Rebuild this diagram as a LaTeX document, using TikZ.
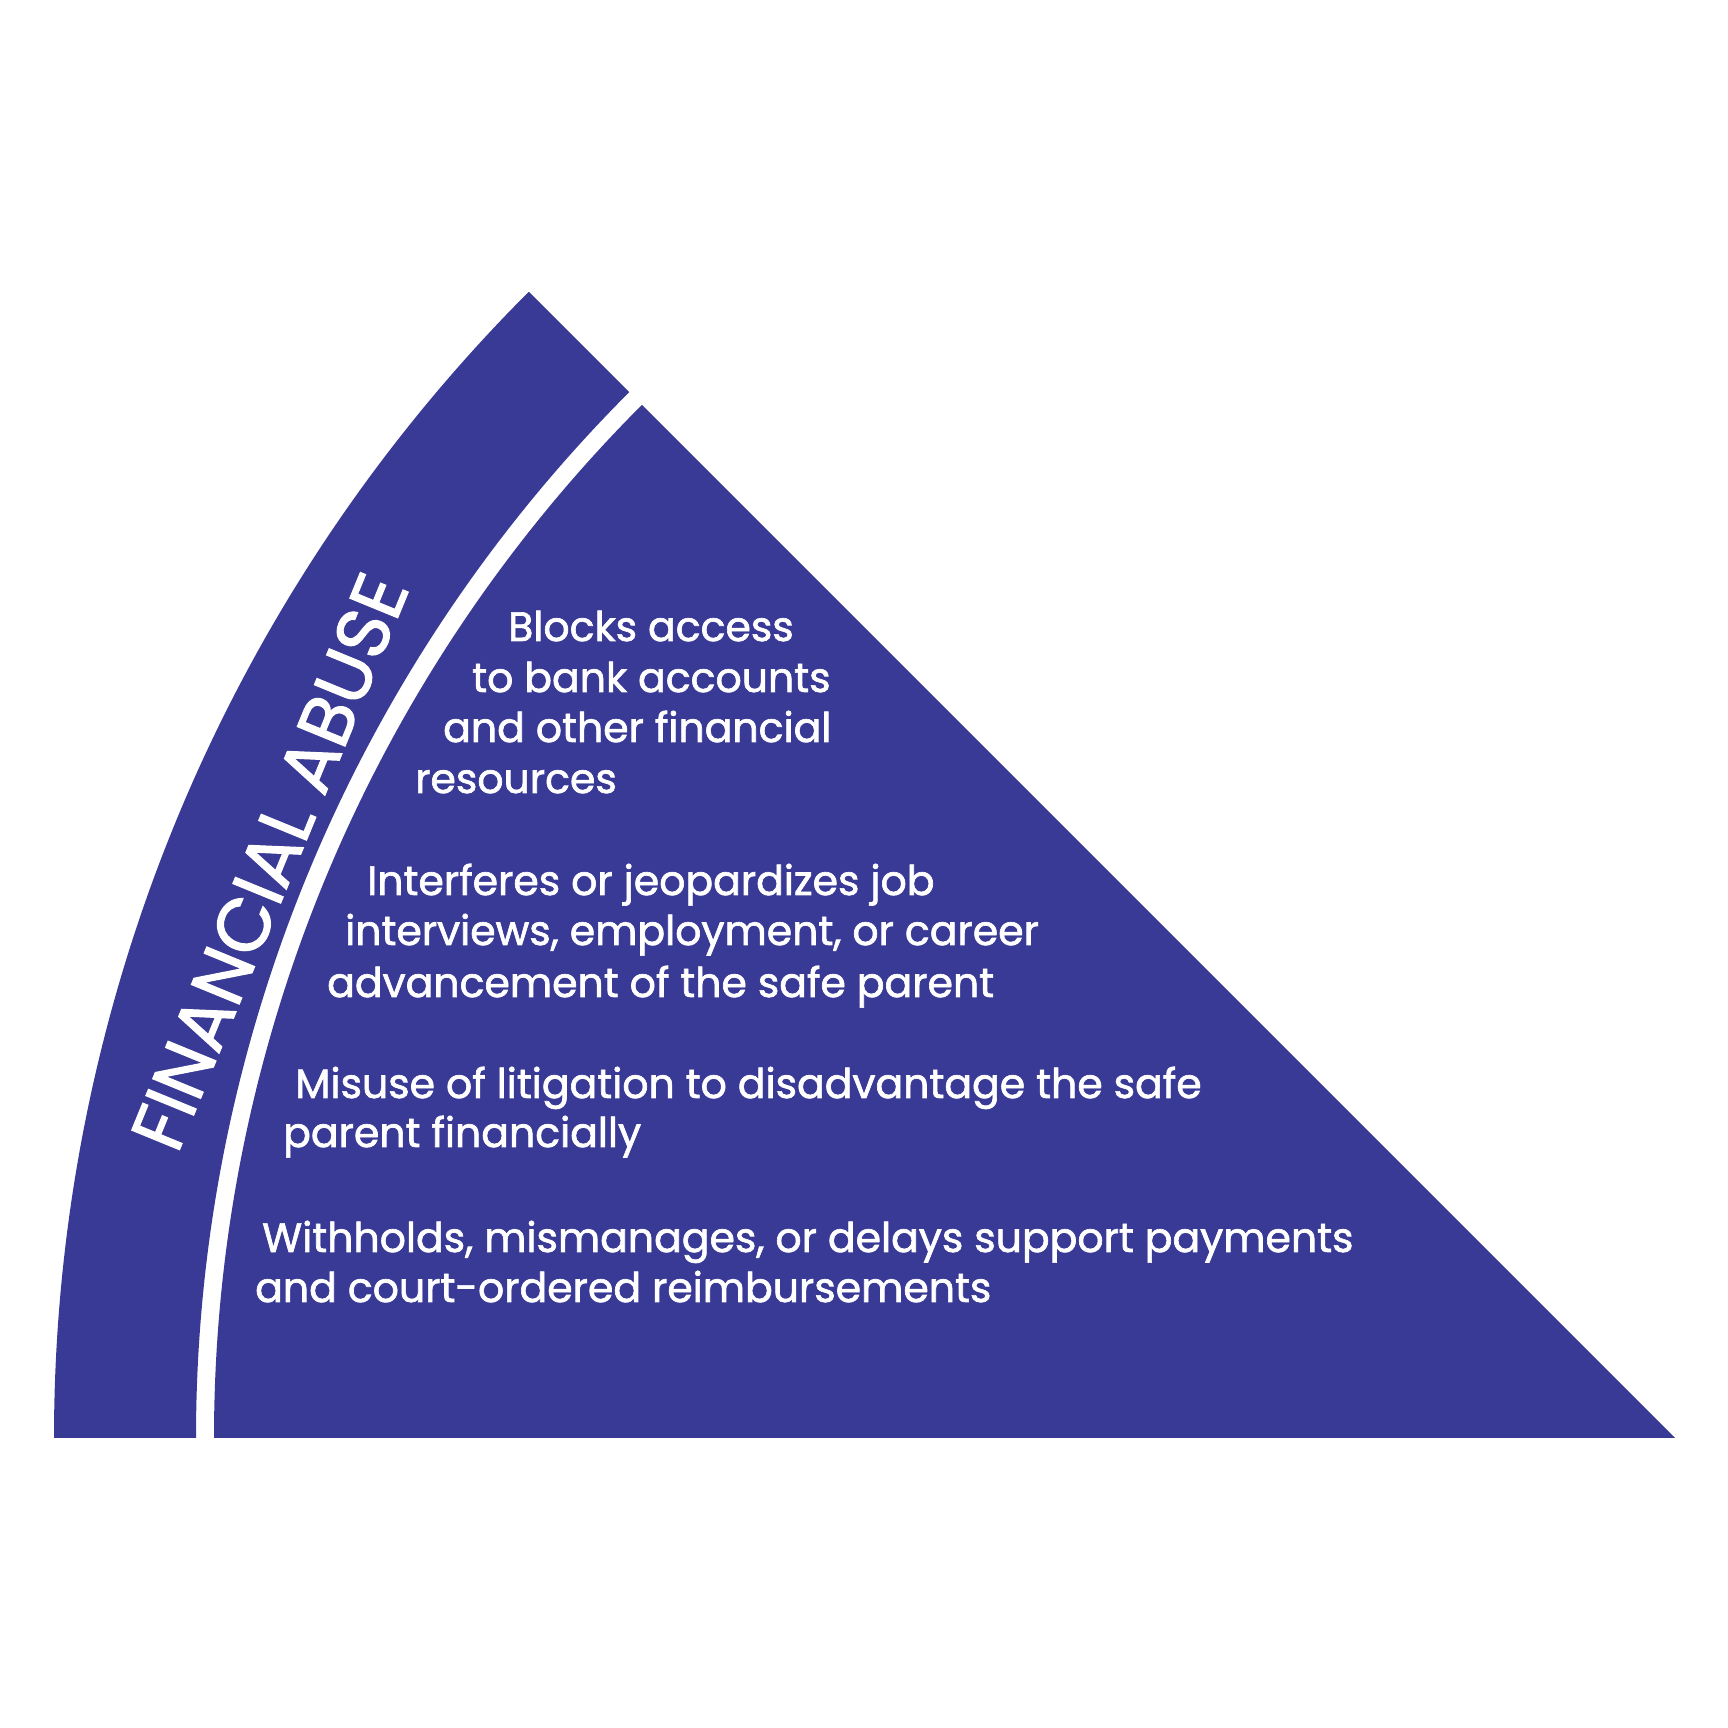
\documentclass[tikz,border=0pt]{standalone}
\usepackage{fontspec}
\setmainfont{Poppins}
\newfontfamily\faFont{Poppins}[FakeBold=1.6]
\definecolor{faBlue}{RGB}{57,58,150}
\begin{document}
\begin{tikzpicture}
% Financial abuse wedge, drawn in pixel units
\def\unitsz{1pt}
\providecommand{\faOuterRadius}{1621}
\providecommand{\faBandRadius}{1479}
\providecommand{\faInnerRadius}{1461}
\providecommand{\faTextSize}{41}
\providecommand{\faTitleSize}{74}
\begin{scope}[x=\unitsz, y=\unitsz]
  \path[use as bounding box] (0,0) rectangle (1728,1728);
  \coordinate (apex) at (1675,290);
  % Outer band
  \fill[faBlue] ([shift={(180:\faOuterRadius)}]apex)
    arc[start angle=180, end angle=135, radius=\faOuterRadius]
    -- ([shift={(135:\faBandRadius)}]apex)
    arc[start angle=135, end angle=180, radius=\faBandRadius] -- cycle;
  % Inner slice
  \fill[faBlue] (apex) -- ([shift={(135:\faInnerRadius)}]apex)
    arc[start angle=135, end angle=180, radius=\faInnerRadius] -- cycle;
  % Band title
  \node[rotate=67.7, inner sep=0pt, text=white, font=\faFont\fontsize{\faTitleSize}{\faTitleSize}\selectfont]
    (title) at ([shift={(157.7:1519)}]apex) {FINANCIAL ABUSE};
  % Text lines
  \begin{scope}[every node/.style={anchor=base west, inner sep=0pt, text=white,
      font=\faFont\fontsize{\faTextSize}{51}\selectfont}]
    \node (blocks1) at (508,1087) {Blocks access};
    \node (blocks2) at (472,1036) {to bank accounts};
    \node (blocks3) at (443,986) {and other financial};
    \node (blocks4) at (415,935) {resources};
    \node (jobs1) at (367,833) {Interferes or jeopardizes job};
    \node (jobs2) at (345,783) {interviews, employment, or career};
    \node (jobs3) at (327,731) {advancement of the safe parent};
    \node (court1) at (295,630) {Misuse of litigation to disadvantage the safe};
    \node (court2) at (283,581) {parent financially};
    \node (pay1) at (262,476) {Withholds, mismanages, or delays support payments};
    \node (pay2) at (255,426) {and court-ordered reimbursements};
  \end{scope}
\end{scope}
\end{tikzpicture}
\end{document}
